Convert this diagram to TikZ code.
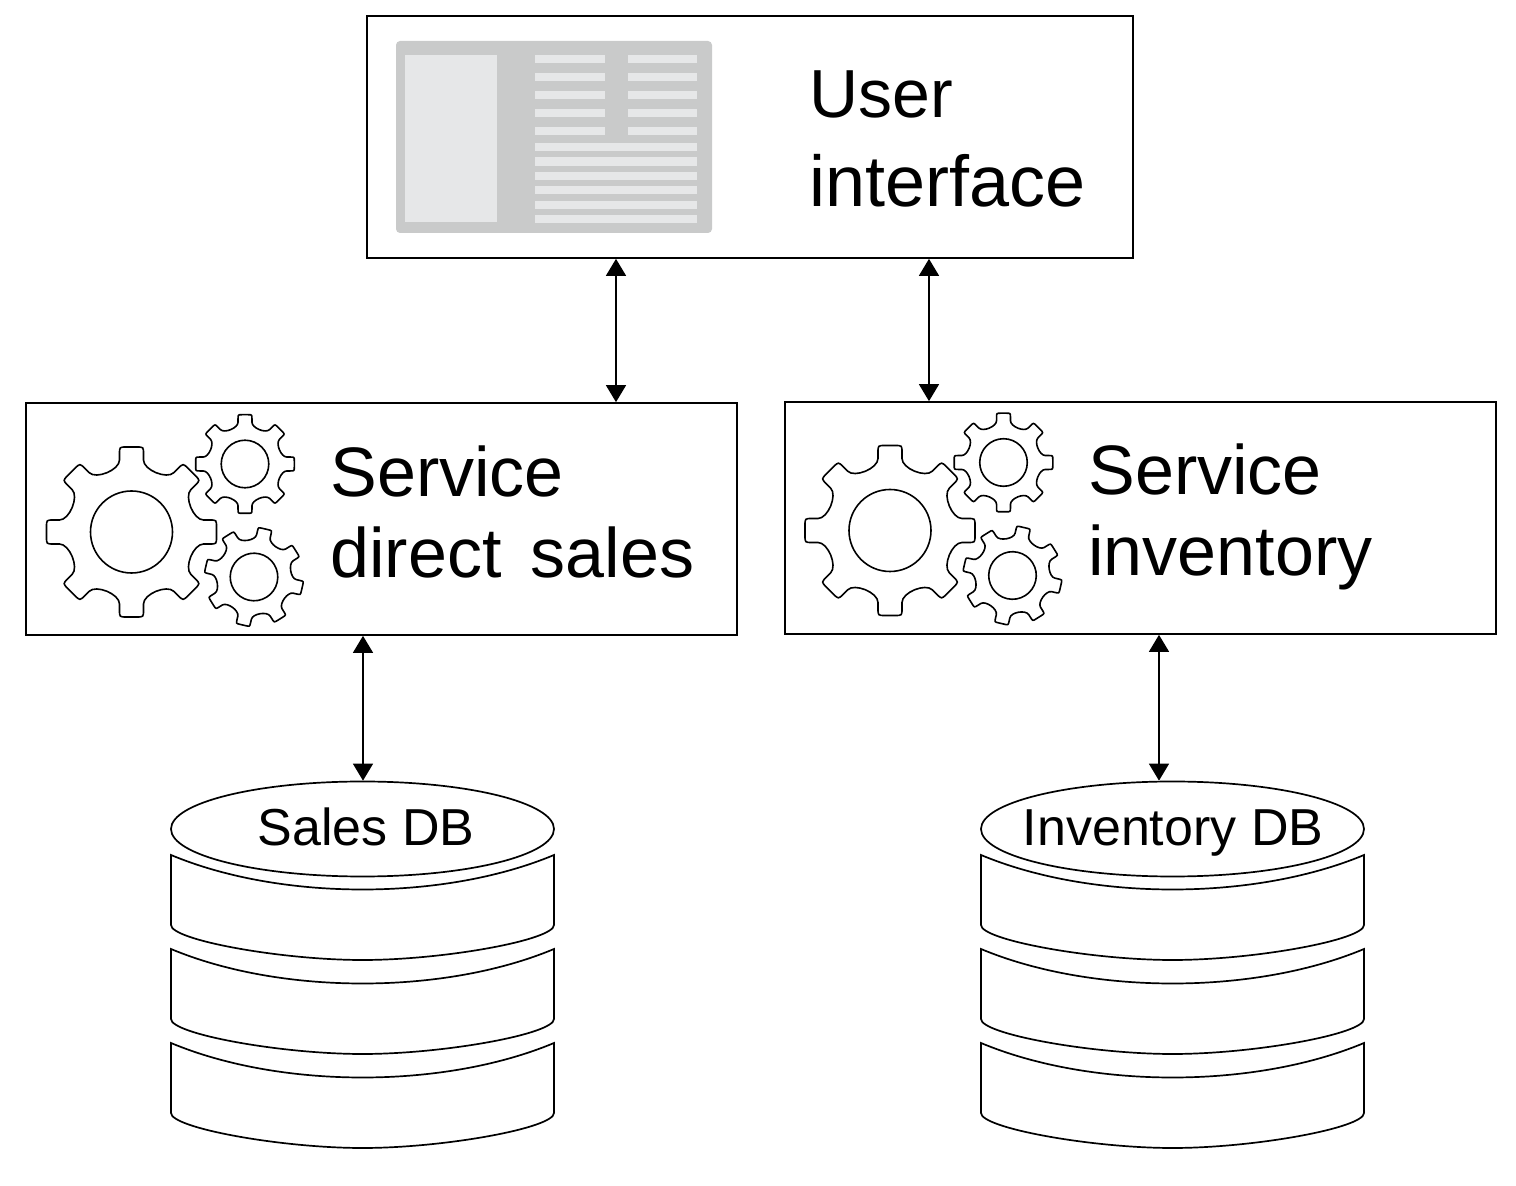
\documentclass[tikz,border=0pt]{standalone}
\usepackage{fontspec}
\setmainfont{Liberation Sans}
\usetikzlibrary{arrows.meta,calc,shapes.geometric}
\definecolor{paneldark}{HTML}{C9CACA}
\definecolor{panellight}{HTML}{E6E7E8}
\tikzset{
  pics/gear/.style={code={
    \draw[line width=.8pt] ([rotate=0]72,12)
      \foreach \a in {0,45,...,315} {
        -- ([rotate=\a]78,12) .. controls ([rotate=\a]85,12) and ([rotate=\a]85,12) .. ([rotate=\a]85,5)
        -- ([rotate=\a]85,-5) .. controls ([rotate=\a]85,-12) and ([rotate=\a]85,-12) .. ([rotate=\a]78,-12)
        -- ([rotate=\a]72,-12)
        .. controls ([rotate=\a]62,-12) and ([rotate=\a+45]62,12) .. ([rotate=\a+45]72,12)
      } -- cycle;
    \draw[line width=.8pt] (0,0) circle[radius=41];
  }},
  pics/disk/.style={code={
    \draw[line width=.85pt, fill=white] (0,0) .. controls (110,46) and (273,46) .. (383,0)
      -- (383,70) .. controls (383,85) and (273,105) .. (191.5,105)
      .. controls (110,105) and (0,85) .. (0,70) -- cycle;
  }}
}
\begin{document}
\begin{tikzpicture}[x=.5pt, y=-.5pt]
    \tikzstyle{every node}=[inner sep=0]
    \tikzstyle{box}=[draw, line width=.85pt, minimum height=116pt, minimum width=355.5pt]
    \tikzstyle{dbtop}=[draw, ellipse, line width=.85pt, minimum width=191.5pt, minimum height=47.5pt]
    \tikzstyle{biglabel}=[anchor=base west, align=left, font=\fontsize{35}{40.5}\selectfont]
    \tikzstyle{dblabel}=[anchor=base, font=\fontsize{26}{32}\selectfont]
    \tikzstyle{link}=[line width=.7pt, {Triangle[length=8.5pt,width=10pt]}-{Triangle[length=8.5pt,width=10pt]}]
    \useasboundingbox (0,0) rectangle (1516,1186);

    \node[box, minimum width=383pt, minimum height=121pt] (UI) at (750,137) {};
    \node[box] (DS) at (381.5,519) {};
    \node[box] (INV) at (1140.2,518) {};

    % Screen mock-up
    \fill[paneldark, rounded corners=2pt] (396,41) rectangle (712,233);
    \fill[panellight] (405,55) rectangle (497,222);
    \foreach \y in {55,73,91,109,127} {
        \fill[panellight] (535,\y) rectangle +(69.5,8.5);
        \fill[panellight] (628,\y) rectangle +(69,8.5);
    }
    \foreach \y in {143,157.5,172,186,201,215} {
        \fill[panellight] (535,\y) rectangle +(162,8.5);
    }
    \node[biglabel, font=\fontsize{36}{44.5}\selectfont] (UIL) at (809,207) {{\fontsize{34}{44.5}\selectfont User}\\interface};

    % Gears of both services
    \foreach \dx/\dy in {0/0,758.5/-1.5} {
        \pic at (131.5+\dx,532+\dy) {gear};
        \pic[scale=.58] at (245+\dx,464+\dy) {gear};
        \pic[scale=.58, rotate=-13] at (254+\dx,577+\dy) {gear};
    }
    \node[biglabel] (DSL) at (330,578) {Service\\direct\hspace{5pt} sales};
    \node[biglabel] (INVL) at (1088,576) {Service\\inventory};

    % Databases
    \foreach \x in {171,981} {
        \foreach \y in {855,949,1043} {
            \pic at (\x,\y) {disk};
        }
    }
    \node[dbtop] (DBS) at (362.5,829) {};
    \node[dbtop] (DBI) at (1172.5,829) {};
    \node[dblabel] (DBSL) at (366,846) {Sales DB};
    \node[dblabel] (DBIL) at (1173,846) {Inventory DB};

    \draw[link] (616,0 |- UI.south) -- (616,0 |- DS.north);
    \draw[link] (929,0 |- UI.south) -- (929,0 |- INV.north);
    \draw[link] (363,0 |- DS.south) -- (363,0 |- DBS.north);
    \draw[link] (1159,0 |- INV.south) -- (1159,0 |- DBI.north);
\end{tikzpicture}
\end{document}
